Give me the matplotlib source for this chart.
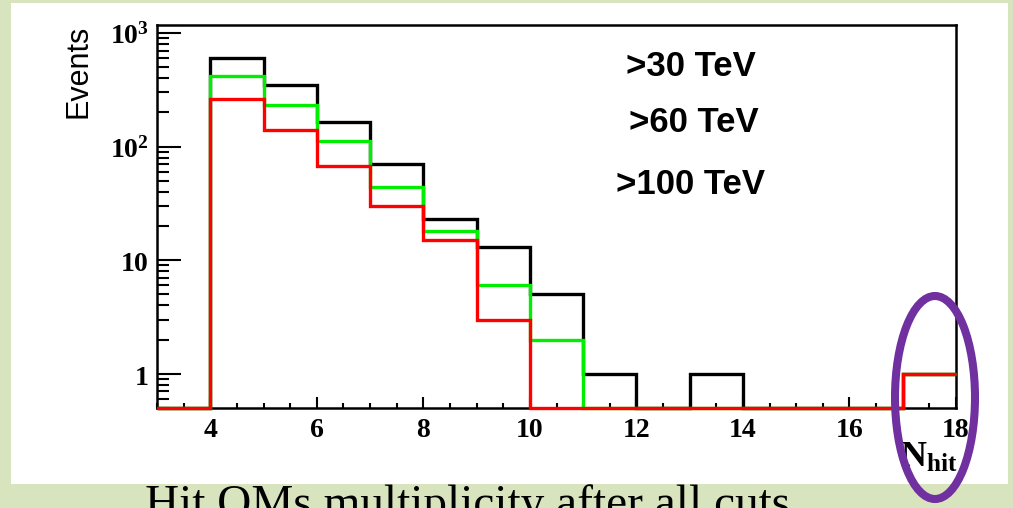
import numpy as np
import matplotlib
matplotlib.use("Agg")
import matplotlib.pyplot as plt
from matplotlib import font_manager
from matplotlib.patches import Rectangle, Ellipse
from matplotlib.ticker import FixedLocator, FixedFormatter, MultipleLocator, NullFormatter

# bin edges of the hit multiplicity histogram
edges = np.arange(3, 19)

# events per bin for each energy threshold (bins 3-4 ... 17-18)
above_30  = [0, 600, 350, 163, 70, 23, 13, 5, 1, 0, 1, 0, 0, 0, 1]
above_60  = [0, 420, 233, 111, 44, 18, 6, 2, 0, 0, 0, 0, 0, 0, 1]
above_100 = [0, 264, 140, 67, 30, 15, 3, 0, 0, 0, 0, 0, 0, 0, 1]

thresholds = [">30 TeV", ">60 TeV", ">100 TeV"]
y_ticks = [1, 10, 100, 1000]
y_tick_labels = [r"$\mathbf{1}$", r"$\mathbf{10}$", r"$\mathbf{10^{2}}$", r"$\mathbf{10^{3}}$"]
x_ticks = [4, 6, 8, 10, 12, 14, 16, 18]

ymin, ymax = 0.5, 1176

try:
    font_manager.findfont("Liberation Sans Narrow", fallback_to_default=False)
    narrow = "Liberation Sans Narrow"
except ValueError:
    narrow = "Liberation Sans"

plt.rcParams["mathtext.fontset"] = "custom"
plt.rcParams["mathtext.rm"] = "Liberation Serif"
plt.rcParams["mathtext.bf"] = "Liberation Serif:bold"
plt.rcParams["mathtext.it"] = "Liberation Serif:italic"

W, H = 1013, 508
fig = plt.figure(figsize=(W / 100, H / 100), dpi=100)
fig.patch.set_facecolor("#d7e4bd")


def fx(px):
    return px / W


def fy(py):
    return (H - py) / H


# white slide panel behind the plot
fig.patches.append(Rectangle((fx(11), fy(484)), fx(1008) - fx(11), fy(3) - fy(484),
                             transform=fig.transFigure, facecolor="white",
                             edgecolor="none", zorder=-10))

ax = fig.add_axes([fx(157), fy(408), fx(956) - fx(157), fy(25) - fy(408)])
ax.set_facecolor("white")
ax.set_yscale("log")
ax.set_xlim(edges[0], edges[-1])
ax.set_ylim(ymin, ymax)

# empty bins sit on the bottom of the log axis
for vals, col in [(above_30, "black"), (above_60, "#00ee00"), (above_100, "#ff0000")]:
    v = np.asarray(vals, dtype=float)
    v = np.where(v > 0, v, ymin)
    ax.stairs(v, edges, baseline=None, color=col, lw=2.4, clip_on=False, zorder=3)

for s in ax.spines.values():
    s.set_linewidth(1.8)

ax.yaxis.set_major_locator(FixedLocator(y_ticks))
ax.yaxis.set_major_formatter(FixedFormatter(y_tick_labels))
ax.yaxis.set_minor_locator(matplotlib.ticker.LogLocator(base=10, subs=np.arange(2, 10)))
ax.yaxis.set_minor_formatter(NullFormatter())
ax.xaxis.set_major_locator(FixedLocator(x_ticks))
ax.xaxis.set_minor_locator(MultipleLocator(0.5))

ax.tick_params(axis="y", which="major", direction="in", length=17, width=1.5,
               labelsize=20, pad=6, right=False)
ax.tick_params(axis="y", which="minor", direction="in", length=8.5, width=1.5, right=False)
ax.tick_params(axis="x", which="major", direction="in", length=8, width=1.5,
               labelsize=20, pad=7, top=False)
ax.tick_params(axis="x", which="minor", direction="in", length=3.6, width=1.5, top=False)
for lab in ax.get_xticklabels():
    lab.set_family("Liberation Serif")
    lab.set_fontweight("bold")

ax.set_ylabel("Events", loc="top", family="Liberation Sans", fontsize=22)
ax.yaxis.set_label_coords(-0.08, 1.0)

# threshold labels
for label, (px, py) in zip(thresholds, [(691, 66), (694, 122), (690, 184)]):
    fig.text(fx(px), fy(py), label, family=narrow, fontweight="bold", fontsize=25,
             ha="center", va="center")

fig.text(fx(958), fy(467), r"$\mathbf{N_{hit}}$", fontsize=26, ha="right", va="baseline")

fig.text(fx(145), fy(517), "Hit OMs multiplicity after all cuts", family="Liberation Serif",
         fontsize=34, ha="left", va="baseline")

fig.patches.append(Ellipse((fx(935), fy(397.5)), fx(80), 203 / H, transform=fig.transFigure,
                           facecolor="none", edgecolor="#7030a0", lw=5.8, zorder=10))

fig.savefig("out.png", dpi=100)
